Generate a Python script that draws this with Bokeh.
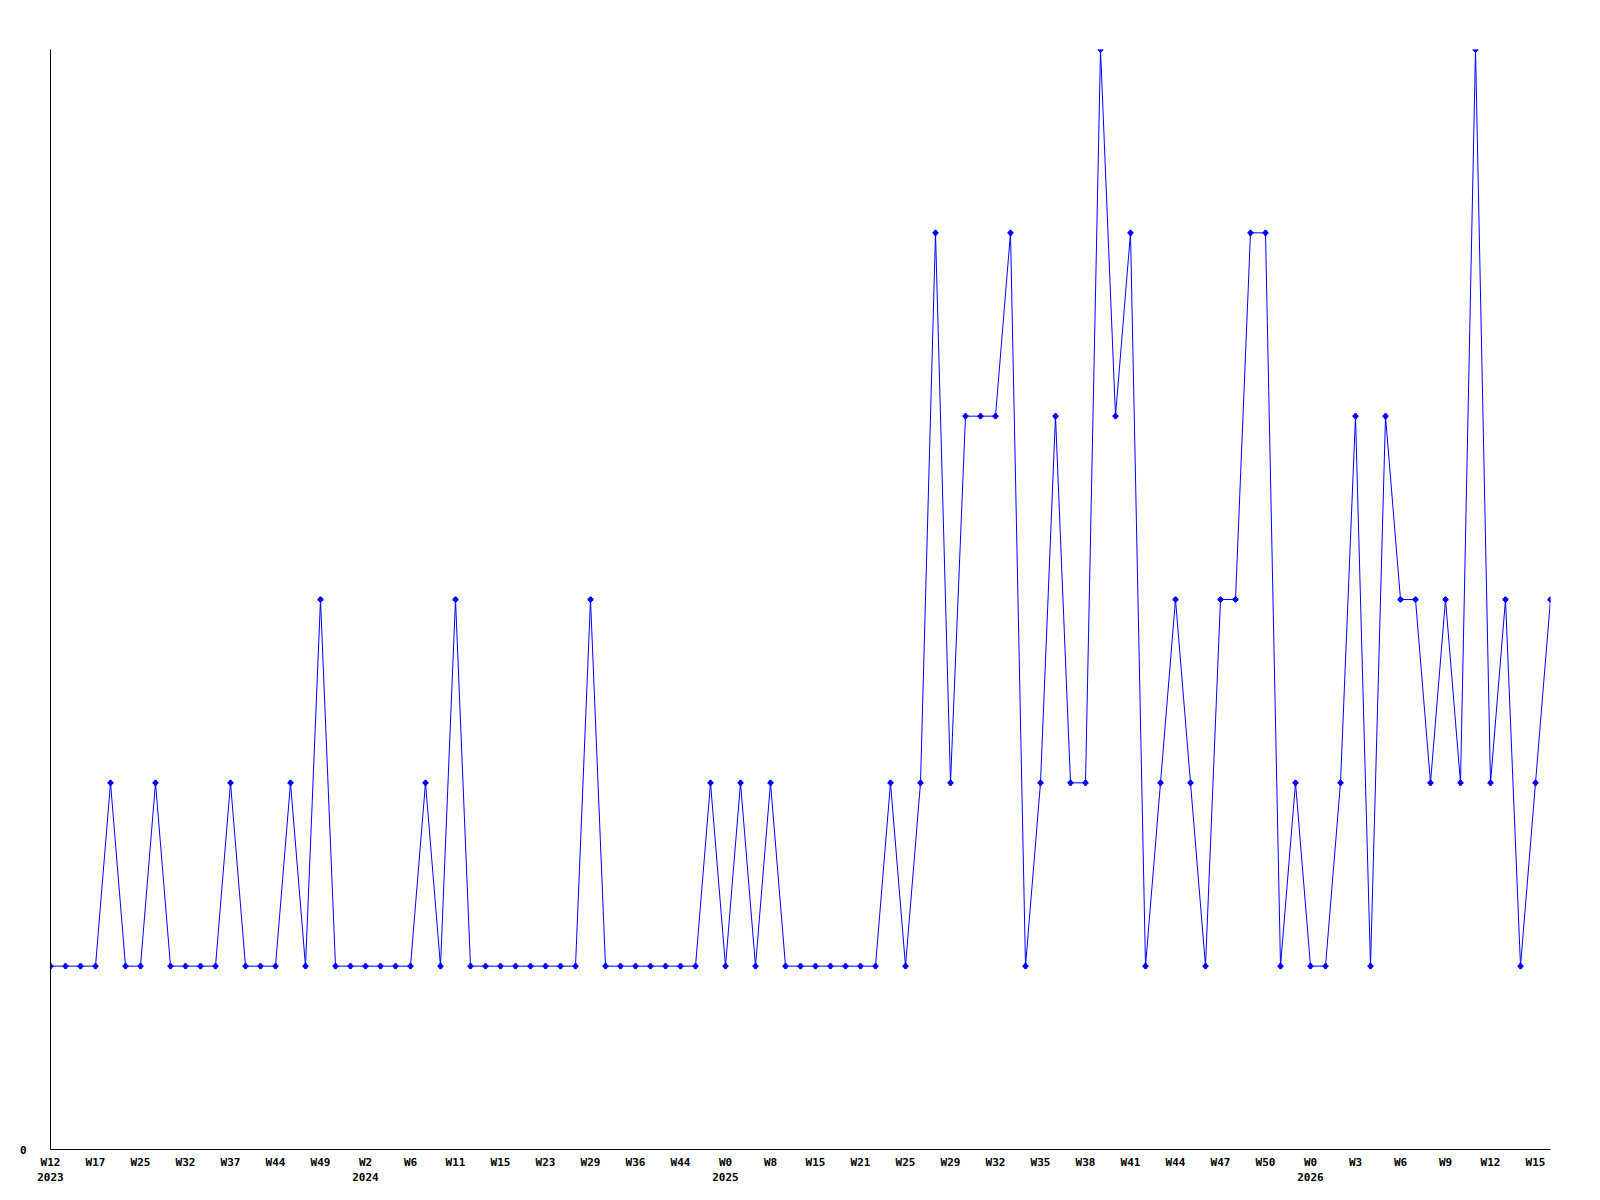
from bokeh.plotting import figure
from bokeh.models import Range1d, FixedTicker
from bokeh.embed import file_html
from bokeh.resources import INLINE

values = [1, 1, 1, 1, 2, 1, 1, 2, 1, 1,
          1, 1, 2, 1, 1, 1, 2, 1, 3, 1,
          1, 1, 1, 1, 1, 2, 1, 3, 1, 1,
          1, 1, 1, 1, 1, 1, 3, 1, 1, 1,
          1, 1, 1, 1, 2, 1, 2, 1, 2, 1,
          1, 1, 1, 1, 1, 1, 2, 1, 2, 5,
          2, 4, 4, 4, 5, 1, 2, 4, 2, 2,
          6, 4, 5, 1, 2, 3, 2, 1, 3, 3,
          5, 5, 1, 2, 1, 1, 2, 4, 1, 4,
          3, 3, 2, 3, 2, 6, 2, 3, 1, 2,
          3]

tick_weeks = ["W12", "W17", "W25", "W32", "W37", "W44", "W49",
              "W2", "W6", "W11", "W15", "W23", "W29", "W36", "W44",
              "W0", "W8", "W15", "W21", "W25", "W29", "W32", "W35", "W38",
              "W41", "W44", "W47", "W50",
              "W0", "W3", "W6", "W9", "W12", "W15"]
tick_years = ["2023", "", "", "", "", "", "",
              "2024", "", "", "", "", "", "", "",
              "2025", "", "", "", "", "", "", "", "",
              "", "", "", "",
              "2026", "", "", "", "", ""]
tick_step = 3

x = list(range(len(values)))

p = figure(width=1584, height=1192, output_backend="svg", toolbar_location=None,
           x_range=Range1d(0, len(values) - 1), y_range=Range1d(0, 6),
           min_border_left=50, min_border_right=34, min_border_top=49, min_border_bottom=43)
p.outline_line_color = None
p.xgrid.visible = False
p.ygrid.visible = False

p.line(x, values, line_color="#0000ff", line_width=1)
p.scatter(x, values, marker="plus", size=5, color="#0000ff")

ticks = [i * tick_step for i in range(len(tick_weeks))]
p.xaxis.ticker = FixedTicker(ticks=ticks)
p.xaxis.major_label_overrides = {
    t: (w + "\n" + y if y else w) for t, w, y in zip(ticks, tick_weeks, tick_years)
}
p.yaxis.ticker = FixedTicker(ticks=[0])

for ax in (p.xaxis, p.yaxis):
    ax.major_tick_line_color = None
    ax.minor_tick_line_color = None
    ax.axis_line_color = "black"
    ax.axis_line_width = 1
    ax.major_label_text_font = "DejaVu Sans Mono"
    ax.major_label_text_font_style = "bold"
    ax.major_label_text_font_size = "11px"
    ax.major_label_text_color = "black"

p.xaxis.major_label_standoff = 0
p.yaxis.major_label_standoff = 18

open("out.html", "w").write(file_html(p, INLINE))
